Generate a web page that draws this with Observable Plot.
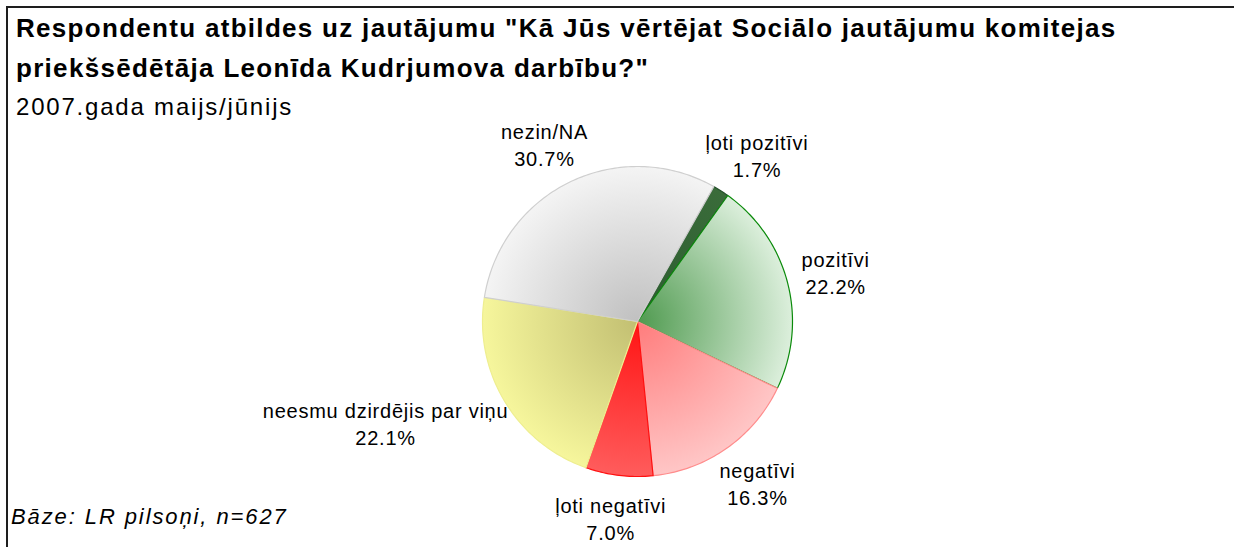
<!DOCTYPE html>
<html>
<head>
<meta charset="utf-8">
<script src="https://cdn.jsdelivr.net/npm/d3@7"></script>
<script src="https://cdn.jsdelivr.net/npm/@observablehq/plot@0.6"></script>
<style>
  html, body { margin: 0; padding: 0; background: #fff; }
  #page { position: relative; width: 1234px; height: 547px; overflow: hidden; background: #fff;
          font-family: "Liberation Sans", Arial, sans-serif; color: #000; }
  #frame { position: absolute; left: 6px; top: 6px; width: 1240px; height: 560px;
           border-left: 2px solid #1e1e1e; border-top: 2px solid #1e1e1e; }
  .t { position: absolute; white-space: nowrap; }
  #title { left: 16px; top: 8px; font-size: 26px; letter-spacing: 1.3px; font-weight: bold; line-height: 40px; }
  #subtitle { left: 16px; top: 92px; font-size: 24px; letter-spacing: 1.8px; line-height: 30px; }
  #caption { left: 11px; top: 504px; font-size: 22px; letter-spacing: 1.9px; font-style: italic; line-height: 26px; }
  #chart { position: absolute; left: 0; top: 0; }
</style>
</head>
<body>
<div id="page">
  <div id="frame"></div>
  <div id="chart"></div>
  <div class="t" id="title">Respondentu atbildes uz jautājumu "Kā Jūs vērtējat Sociālo jautājumu komitejas<br>priekšsēdētāja Leonīda Kudrjumova darbību?"</div>
  <div class="t" id="subtitle">2007.gada maijs/jūnijs</div>
  <div class="t" id="caption">Bāze: LR pilsoņi, n=627</div>
</div>
<script>
// ---- data ----
const categories = ["ļoti pozitīvi", "pozitīvi", "negatīvi", "ļoti negatīvi", "neesmu dzirdējis par viņu", "nezin/NA"];
const values = [1.7, 22.2, 16.3, 7.0, 22.1, 30.7];

// ---- styles ----
const innerColors = ["#2c5c30", "#4f9a4f", "#ff7c7c", "#ff1414", "#c2bf72", "#c0c0c0"];
const outerColors = ["#3a6c3a", "#dcefdc", "#ffc6c6", "#ff5c5c", "#f6f69c", "#f4f4f4"];
const strokeColors = ["#24502a", "#0a8a0a", "#ff8c8c", "#ff1010", "#eeee90", "#cfcfcf"];

const W = 1234, H = 547, CX = 637, CY = 321, R = 155;
const startDeg = 29.5;
const labelRadius = 1.1;
const fontSize = 20, lineH = 1.35, letterSp = 0.75;

// pie geometry via d3.pie (angles clockwise from 12 o'clock)
const pie = d3.pie().sort(null).value(d => d)
  .startAngle(startDeg * Math.PI / 180).endAngle((startDeg + 360) * Math.PI / 180);
const arcs = pie(values);

const slices = arcs.map((a, i) => {
  const pts = [{x: 0, y: 0}];
  const n = Math.max(2, Math.ceil((a.endAngle - a.startAngle) * 180 / Math.PI));
  for (let k = 0; k <= n; k++) {
    const t = a.startAngle + (a.endAngle - a.startAngle) * k / n;
    pts.push({x: Math.sin(t), y: Math.cos(t)});
  }
  return pts;
});

const ctx = document.createElement("canvas").getContext("2d");
ctx.font = `${fontSize}px "Liberation Sans"`;
const textW = s => ctx.measureText(s).width + s.length * letterSp;
const labels = arcs.map((a, i) => {
  const m = (a.startAngle + a.endAngle) / 2;
  const s = Math.sin(m), c = Math.cos(m);
  const pct = values[i].toFixed(1) + "%";
  const w = Math.max(textW(categories[i]), textW(pct));
  const h = fontSize * lineH * 2;
  return {
    x: labelRadius * s + s * (w / 2) / R,
    y: labelRadius * c + c * (h / 2) / R,
    text: categories[i] + "\n" + pct
  };
});

const plot = Plot.plot({
  width: W, height: H, margin: 0,
  style: {background: "transparent", overflow: "visible", letterSpacing: letterSp + "px"},
  x: {domain: [-1, 1], range: [CX - R, CX + R], axis: null},
  y: {domain: [-1, 1], range: [CY + R, CY - R], axis: null},
  marks: [
    ...slices.map((pts, i) => Plot.line(pts, {
      x: "x", y: "y", curve: "linear-closed",
      fill: `url(#grad${i})`, stroke: strokeColors[i], strokeWidth: 1.2
    })),
    Plot.text(labels, {
      x: "x", y: "y", text: "text", fontSize, lineHeight: lineH,
      fill: "#000", fontFamily: "Liberation Sans, Arial, sans-serif", textAnchor: "middle", lineAnchor: "middle"
    })
  ]
});

const defs = innerColors.map((c, i) =>
  `<radialGradient id="grad${i}" gradientUnits="userSpaceOnUse" cx="${CX}" cy="${CY}" r="${R}">
     <stop offset="0" stop-color="${c}"/><stop offset="1" stop-color="${outerColors[i]}"/>
   </radialGradient>`).join("");
plot.insertAdjacentHTML("afterbegin", `<defs>${defs}</defs>`);
document.getElementById("chart").appendChild(plot);
</script>
</body>
</html>
